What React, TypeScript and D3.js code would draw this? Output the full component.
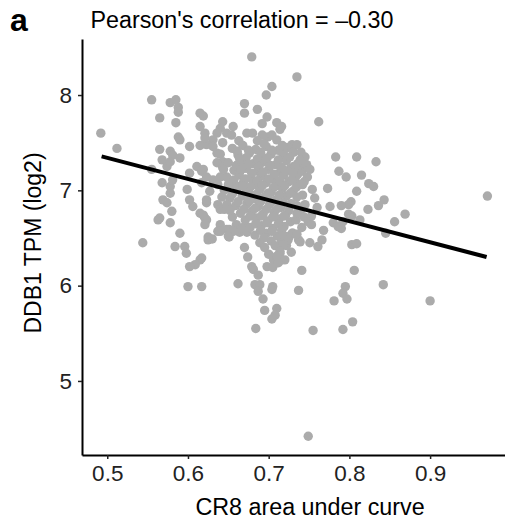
import { useEffect, useRef } from 'react';
import * as d3 from 'd3';

// CR8 AUC (x) vs DDB1 TPM log2 (y)
const upperPoints: [number, number][] = [
  [0.679, 8.40], [0.735, 8.19], [0.704, 8.09], [0.697, 8.00], [0.555, 7.95], [0.578, 7.92],
  [0.585, 7.95], [0.588, 7.87], [0.588, 7.82], [0.565, 7.76], [0.585, 7.71], [0.615, 7.81],
  [0.619, 7.78], [0.670, 7.91], [0.670, 7.81], [0.686, 7.85], [0.698, 7.77], [0.692, 7.70],
  [0.710, 7.71], [0.714, 7.64], [0.716, 7.67], [0.762, 7.72], [0.492, 7.60], [0.512, 7.44],
  [0.643, 7.72], [0.640, 7.65], [0.656, 7.67], [0.648, 7.60], [0.636, 7.60], [0.654, 7.58],
  [0.615, 7.67], [0.621, 7.60], [0.588, 7.56], [0.590, 7.53], [0.631, 7.53], [0.623, 7.48],
  [0.602, 7.46], [0.615, 7.47], [0.631, 7.46], [0.565, 7.43], [0.578, 7.41], [0.581, 7.37],
  [0.590, 7.34], [0.636, 7.39], [0.643, 7.30], [0.645, 7.29], [0.643, 7.50], [0.621, 7.55],
  [0.673, 7.60], [0.680, 7.60], [0.692, 7.58], [0.699, 7.56], [0.704, 7.58], [0.729, 7.48],
  [0.735, 7.48], [0.730, 7.45], [0.686, 7.52], [0.710, 7.53], [0.663, 7.52],
];

const leftPoints: [number, number][] = [
  [0.568, 7.32], [0.574, 7.25], [0.578, 7.30], [0.555, 7.22], [0.568, 7.08], [0.578, 7.04],
  [0.581, 7.11], [0.578, 6.97], [0.574, 6.87], [0.580, 6.78], [0.569, 6.90], [0.563, 6.69],
  [0.565, 6.71], [0.578, 6.66], [0.590, 6.55], [0.599, 7.01], [0.602, 6.90], [0.606, 6.83],
  [0.623, 6.87], [0.615, 6.76], [0.621, 6.71], [0.637, 6.57], [0.648, 6.59], [0.611, 7.25],
  [0.617, 7.20], [0.602, 7.18], [0.631, 7.11], [0.640, 7.14], [0.627, 6.99], [0.636, 7.29],
  [0.643, 7.24], [0.619, 7.22], [0.623, 7.14], [0.617, 7.08], [0.623, 6.90], [0.623, 6.69],
  [0.619, 6.74], [0.621, 6.64], [0.637, 6.85], [0.640, 6.80], [0.645, 6.80], [0.640, 6.64],
  [0.651, 6.51], [0.664, 6.56], [0.670, 6.62], [0.673, 6.56], [0.625, 6.51],
];

const corePoints: [number, number][] = [
  [0.655, 7.44], [0.668, 7.47], [0.684, 7.43], [0.697, 7.46], [0.712, 7.42], [0.724, 7.45],
  [0.662, 7.37], [0.676, 7.39], [0.690, 7.35], [0.703, 7.38], [0.718, 7.36], [0.731, 7.40],
  [0.650, 7.29], [0.667, 7.31], [0.681, 7.28], [0.694, 7.30], [0.709, 7.27], [0.722, 7.31], [0.736, 7.28],
  [0.657, 7.21], [0.672, 7.23], [0.686, 7.20], [0.700, 7.22], [0.714, 7.19], [0.727, 7.23], [0.741, 7.20],
  [0.648, 7.14], [0.663, 7.16], [0.678, 7.13], [0.691, 7.15], [0.705, 7.12], [0.719, 7.16], [0.733, 7.13],
  [0.655, 7.07], [0.669, 7.09], [0.684, 7.06], [0.697, 7.08], [0.711, 7.05], [0.725, 7.09], [0.738, 7.06],
  [0.645, 7.00], [0.661, 7.02], [0.675, 6.99], [0.689, 7.01], [0.703, 6.98], [0.717, 7.02], [0.730, 6.99],
  [0.652, 6.92], [0.667, 6.94], [0.681, 6.91], [0.695, 6.93], [0.709, 6.90], [0.722, 6.94],
  [0.659, 6.84], [0.673, 6.86], [0.687, 6.83], [0.701, 6.85], [0.715, 6.82], [0.728, 6.86],
  [0.665, 6.76], [0.679, 6.78], [0.693, 6.75], [0.707, 6.77], [0.721, 6.74],
  [0.671, 6.69], [0.685, 6.71], [0.699, 6.68], [0.713, 6.70], [0.727, 6.67],
  [0.677, 6.61], [0.691, 6.63], [0.705, 6.60], [0.719, 6.62],
  [0.683, 6.53], [0.697, 6.55], [0.711, 6.52], [0.689, 6.45], [0.703, 6.47],
  [0.640, 7.38], [0.644, 7.22], [0.637, 7.06], [0.642, 6.93], [0.648, 6.85], [0.655, 6.72],
  [0.660, 6.64], [0.666, 6.60], [0.745, 7.35], [0.748, 7.14], [0.754, 7.01], [0.757, 6.92],
  [0.745, 6.85], [0.739, 6.78], [0.734, 6.69], [0.741, 6.61], [0.735, 6.76], [0.742, 6.95],
  [0.728, 6.35], [0.722, 6.42], [0.695, 6.40], [0.700, 6.33], [0.706, 6.27],
];

// second layer filling the solid centre of the cloud
const densePoints: [number, number][] = [
  [0.661, 7.41], [0.675, 7.42], [0.690, 7.40], [0.704, 7.42], [0.718, 7.40],
  [0.672, 7.34], [0.686, 7.33], [0.698, 7.34], [0.712, 7.32], [0.726, 7.35],
  [0.660, 7.26], [0.675, 7.27], [0.688, 7.25], [0.702, 7.26], [0.716, 7.24], [0.731, 7.25],
  [0.664, 7.19], [0.679, 7.18], [0.693, 7.19], [0.707, 7.17], [0.721, 7.20], [0.736, 7.17],
  [0.657, 7.11], [0.671, 7.12], [0.686, 7.10], [0.700, 7.12], [0.714, 7.10], [0.729, 7.11],
  [0.663, 7.04], [0.678, 7.04], [0.692, 7.05], [0.706, 7.03], [0.720, 7.05], [0.734, 7.03],
  [0.655, 6.96], [0.671, 6.97], [0.685, 6.96], [0.699, 6.97], [0.713, 6.95], [0.727, 6.97],
  [0.662, 6.88], [0.676, 6.89], [0.690, 6.88], [0.704, 6.89], [0.718, 6.87],
  [0.669, 6.80], [0.683, 6.81], [0.697, 6.80], [0.711, 6.81], [0.725, 6.79],
  [0.677, 6.73], [0.691, 6.73], [0.705, 6.72], [0.719, 6.73],
  [0.684, 6.65], [0.698, 6.66], [0.712, 6.65], [0.690, 6.58], [0.704, 6.57], [0.716, 6.58],
  [0.668, 7.05], [0.666, 7.22], [0.664, 7.33], [0.744, 7.09], [0.745, 7.25], [0.740, 7.40],
  [0.735, 6.84], [0.744, 6.72], [0.726, 6.52], [0.716, 6.47], [0.694, 6.50], [0.708, 6.42],
  [0.650, 7.06], [0.652, 6.79], [0.717, 7.47], [0.694, 7.49],
];

const rightPoints: [number, number][] = [
  [0.739, 7.32], [0.747, 7.27], [0.751, 7.22], [0.733, 7.25], [0.730, 7.18], [0.729, 7.11],
  [0.742, 7.06], [0.735, 6.93], [0.783, 7.35], [0.809, 7.35], [0.833, 7.30], [0.787, 7.20],
  [0.796, 7.14], [0.815, 7.16], [0.824, 7.07], [0.830, 7.04], [0.773, 7.02], [0.809, 6.99],
  [0.971, 6.94], [0.843, 6.90], [0.836, 6.84], [0.802, 6.88], [0.799, 6.85], [0.790, 6.84],
  [0.776, 6.83], [0.760, 6.82], [0.823, 6.80], [0.869, 6.75], [0.856, 6.67], [0.799, 6.75],
  [0.803, 6.73], [0.753, 6.73], [0.749, 6.67], [0.753, 6.64], [0.780, 6.66], [0.790, 6.60],
  [0.768, 6.58], [0.813, 6.69], [0.845, 6.55], [0.786, 6.62], [0.792, 6.67], [0.730, 6.55],
  [0.737, 6.48], [0.751, 6.45], [0.766, 6.48], [0.803, 6.43], [0.809, 6.44], [0.739, 6.46],
  [0.761, 6.41],
];

const lowerPoints: [number, number][] = [
  [0.741, 6.16], [0.737, 5.95], [0.806, 6.16], [0.795, 5.99], [0.792, 5.92], [0.797, 5.86],
  [0.781, 5.84], [0.842, 6.01], [0.900, 5.84], [0.755, 5.53], [0.792, 5.54], [0.804, 5.62],
  [0.749, 4.42], [0.544, 6.45], [0.584, 6.41], [0.596, 6.41], [0.598, 6.34], [0.615, 6.27],
  [0.609, 6.22], [0.602, 6.20], [0.600, 5.99], [0.617, 5.99], [0.662, 6.02], [0.617, 6.29],
  [0.625, 6.48], [0.630, 6.49], [0.640, 6.57], [0.651, 6.59], [0.656, 6.57], [0.650, 6.52],
  [0.670, 6.40], [0.674, 6.30], [0.679, 6.20], [0.681, 6.17], [0.687, 6.11], [0.683, 6.01],
  [0.689, 6.01], [0.687, 5.94], [0.693, 5.86], [0.705, 5.99], [0.704, 5.96], [0.698, 6.20],
  [0.705, 6.19], [0.710, 6.24], [0.714, 6.34], [0.716, 6.27], [0.695, 5.74], [0.710, 5.76],
  [0.708, 5.69], [0.704, 5.65], [0.684, 5.55], [0.729, 6.55], [0.735, 6.54], [0.720, 6.52],
  [0.724, 6.48], [0.718, 6.43], [0.714, 6.36], [0.720, 6.27], [0.712, 6.24], [0.710, 6.31],
];

const fitX = [0.493, 0.97];
const fitY = [7.356, 6.3];
const xTicks = [0.5, 0.6, 0.7, 0.8, 0.9];
const yTicks = [5, 6, 7, 8];

export default function App() {
  const ref = useRef<SVGSVGElement>(null);

  useEffect(() => {
    const width = 505, height = 523;
    const margin = { top: 39, right: 0, bottom: 68, left: 82 };
    const font = 'Liberation Sans, Arial, sans-serif';
    const svg = d3.select(ref.current);
    svg.selectAll('*').remove();

    const x = d3.scaleLinear().domain([0.4687, 0.9928]).range([margin.left, width - margin.right]);
    const y = d3.scaleLinear().domain([4.223, 8.588]).range([height - margin.bottom, margin.top]);

    const points = [...upperPoints, ...leftPoints, ...corePoints, ...densePoints, ...rightPoints, ...lowerPoints];

    svg.append('g')
      .selectAll('circle')
      .data(points)
      .join('circle')
      .attr('cx', d => x(d[0]))
      .attr('cy', d => y(d[1]))
      .attr('r', 4.7)
      .attr('fill', '#ababab');

    const line = d3.line<number>().x(d => x(d)).y((d, i) => y(fitY[i]));
    svg.append('path')
      .attr('d', line(fitX))
      .attr('fill', 'none')
      .attr('stroke', '#000')
      .attr('stroke-width', 4);

    const gx = svg.append('g')
      .attr('transform', `translate(0,${height - margin.bottom})`)
      .call(d3.axisBottom(x).tickValues(xTicks).tickFormat(d3.format('.1f')).tickSize(4).tickSizeOuter(0).tickPadding(6));
    const gy = svg.append('g')
      .attr('transform', `translate(${margin.left},0)`)
      .call(d3.axisLeft(y).tickValues(yTicks).tickFormat(d3.format('d')).tickSize(4).tickSizeOuter(0).tickPadding(6));

    [gx, gy].forEach(g => {
      g.select('.domain').attr('stroke', '#000').attr('stroke-width', 2);
      g.selectAll('.tick line').attr('stroke', '#222').attr('stroke-width', 1.5);
      g.selectAll('.tick text').attr('font-family', font).attr('font-size', 22.5).attr('fill', '#222');
    });

    svg.append('text')
      .attr('x', 10).attr('y', 31)
      .attr('font-family', font).attr('font-weight', 'bold').attr('font-size', 32)
      .text('a');

    svg.append('text')
      .attr('x', 90.5).attr('y', 28)
      .attr('font-family', font).attr('font-size', 23.3)
      .text("Pearson's correlation = \u20130.30");

    svg.append('text')
      .attr('x', 310).attr('y', 515)
      .attr('text-anchor', 'middle')
      .attr('font-family', font).attr('font-size', 23.3)
      .text('CR8 area under curve');

    svg.append('text')
      .attr('transform', `translate(41,243) rotate(-90)`)
      .attr('text-anchor', 'middle')
      .attr('font-family', font).attr('font-size', 23)
      .text('DDB1 TPM (log2)');
  }, []);

  return <svg ref={ref} width={505} height={523} style={{ position: 'absolute', left: 0, top: 0 }} />;
}
